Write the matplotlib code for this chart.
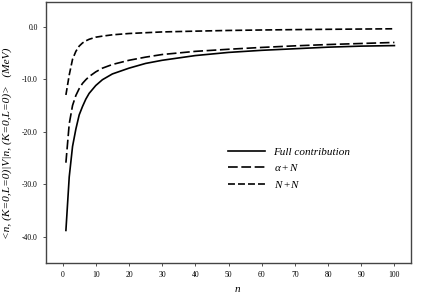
import matplotlib
matplotlib.use("Agg")
import matplotlib.pyplot as plt

n_vals = [1, 2, 3, 4, 5, 6, 7, 8, 10, 12, 15, 20, 25, 30, 40, 50, 60, 70, 80, 90, 100]
full = [-38.8, -28.6, -22.8, -19.5, -16.8, -15.2, -13.8, -12.7, -11.2, -10.1, -9.0, -7.9,
        -7.0, -6.4, -5.5, -4.9, -4.5, -4.2, -3.9, -3.7, -3.6]
alpha_n = [-25.9, -18.5, -15.0, -13.1, -11.8, -10.8, -10.1, -9.5, -8.6, -7.9, -7.2, -6.4,
           -5.8, -5.3, -4.7, -4.3, -3.95, -3.65, -3.4, -3.2, -3.0]
n_n = [-13.0, -9.2, -6.2, -4.7, -3.7, -3.1, -2.7, -2.4, -2.0, -1.8, -1.55, -1.3,
       -1.15, -1.0, -0.85, -0.72, -0.63, -0.56, -0.5, -0.45, -0.4]
labels = ["Full contribution", r"$\alpha + N$", r"$N + N$"]
xticks = list(range(0, 101, 10))
yticks = [0, -10, -20, -30, -40]

plt.rcParams['font.family'] = ['Liberation Serif', 'DejaVu Serif']
plt.rcParams['mathtext.fontset'] = 'custom'
plt.rcParams['mathtext.it'] = 'Liberation Serif:italic'
plt.rcParams['mathtext.rm'] = 'Liberation Serif'
plt.rcParams['axes.unicode_minus'] = False
plt.rcParams['lines.scale_dashes'] = False

fig = plt.figure(figsize=(4.24, 2.97), dpi=100)
ax = fig.add_axes([46/424, 1-263/297, 365/424, 261/297])

ax.plot(n_vals, full, color='black', lw=1.2, label=labels[0])
l2, = ax.plot(n_vals, alpha_n, color='black', lw=1.2, label=labels[1])
l2.set_dashes([7.0, 2.6])
l3, = ax.plot(n_vals, n_n, color='black', lw=1.2, label=labels[2])
l3.set_dashes([5.0, 2.2])

ax.set_xlim(-5, 105)
ax.set_ylim(-45, 4.7)
ax.set_xticks(xticks)
ax.set_xticklabels([str(t) for t in xticks])
ax.set_yticks(yticks)
ax.set_yticklabels(["%.1f" % t for t in yticks])
ax.tick_params(direction='out', length=2, width=0.6, labelsize=5.5, pad=4, color='#333333')
for s in ax.spines.values():
    s.set_color('#444444')
    s.set_linewidth(1.0)

fig.text(6.8/424, 1-143/297, "<n, (K=0,L=0)|V|n, (K=0,L=0)>   (MeV)", fontsize=8.2,
         style='italic', rotation=90, ha='center', va='center')
fig.text(237/424, 1-289/297, "n", fontsize=8, style='italic', ha='center', va='center')

leg = ax.legend(loc='upper left', bbox_to_anchor=(228/424, 1-147/297),
                bbox_transform=fig.transFigure, frameon=False, fontsize=8,
                handlelength=3.3, handletextpad=0.8, labelspacing=0.5,
                borderpad=0, borderaxespad=0)
for t in leg.get_texts():
    t.set_style('italic')

fig.savefig("out.png", dpi=100)
